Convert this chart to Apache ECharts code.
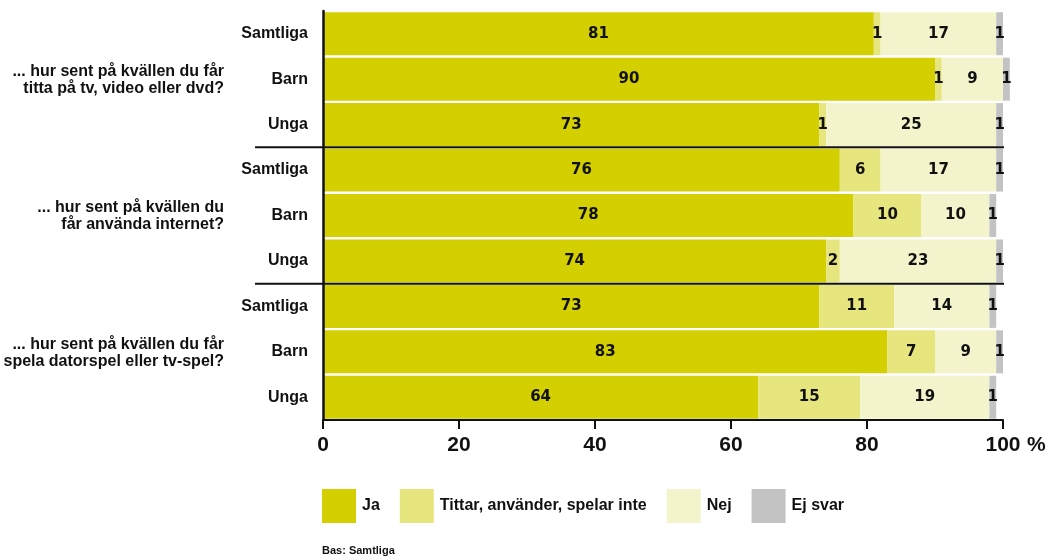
<!DOCTYPE html>
<html>
<head>
<meta charset="utf-8">
<script src="https://cdn.jsdelivr.net/npm/echarts@6/dist/echarts.min.js"></script>
<style>
html,body{margin:0;padding:0;background:#fff;}
#chart{width:1046px;height:560px;}
</style>
</head>
<body>
<div id="chart"></div>
<script>
// ---- data ----
const groupQuestions = [
  '... hur sent på kvällen du får\ntitta på tv, video eller dvd?',
  '... hur sent på kvällen du\nfår använda internet?',
  '... hur sent på kvällen du får\nspela datorspel eller tv-spel?'
];
const rowLabels = ['Samtliga', 'Barn', 'Unga'];
const seriesNames = ['Ja', 'Tittar, använder, spelar inte', 'Nej', 'Ej svar'];
const ja     = [81, 90, 73, 76, 78, 74, 73, 83, 64];
const tittar = [1, 1, 1, 6, 10, 2, 11, 7, 15];
const nej    = [17, 9, 25, 17, 10, 23, 14, 9, 19];
const ejSvar = [1, 1, 1, 1, 1, 1, 1, 1, 1];
const xTickMax = 100;
const xTickStep = 20;
const footnote = 'Bas: Samtliga';

// ---- build ----
const categories = [];
groupQuestions.forEach((q, gi) => rowLabels.forEach(r => categories.push(gi + '|' + r)));

const colors = ['#d3cf00', '#e7e57e', '#f4f4cc', '#c3c3c3'];
const values = [ja, tittar, nej, ejSvar];

const chart = echarts.init(document.getElementById('chart'), null, {renderer: 'canvas'});

const labelFont = {
  show: true, position: 'inside', color: '#111',
  fontFamily: 'DejaVu Sans', fontWeight: 'bold', fontSize: 15
};

const option = {
  animation: false,
  backgroundColor: '#fff',
  grid: {left: 323, right: 43, top: 11, bottom: 140, containLabel: false},
  xAxis: {
    type: 'value', min: 0, max: xTickMax, interval: xTickStep, z: 5,
    splitLine: {show: false},
    axisLine: {show: true, lineStyle: {color: '#111', width: 2}},
    axisTick: {show: true, length: 9, lineStyle: {color: '#111', width: 2}},
    axisLabel: {
      margin: 15, color: '#111', fontFamily: 'Liberation Sans', fontWeight: 'bold', fontSize: 21
    }
  },
  yAxis: {
    type: 'category', data: categories, inverse: true, z: 5,
    axisLine: {show: true, lineStyle: {color: '#111', width: 2.5}},
    axisTick: {show: false},
    axisLabel: {
      margin: 15, color: '#111', fontFamily: 'Liberation Sans', fontWeight: 'bold', fontSize: 16,
      formatter: v => v.split('|')[1]
    }
  },
  legend: {
    left: 322, top: 489, padding: 0, itemWidth: 34, itemHeight: 34, itemGap: 20, icon: 'rect',
    selectedMode: false,
    textStyle: {color: '#111', fontFamily: 'Liberation Sans', fontWeight: 'bold', fontSize: 16, padding: [0, 0, 0, 1]},
    data: seriesNames
  },
  series: seriesNames.map((n, i) => ({
    name: n, type: 'bar', stack: 'all', barWidth: 43, clip: false,
    itemStyle: {color: colors[i]},
    label: labelFont,
    data: values[i]
  }))
};
chart.setOption(option);

// graphic: separators, questions, % sign, footnote
const yPix = i => chart.convertToPixel({yAxisIndex: 0}, i);
const x100 = chart.convertToPixel({xAxisIndex: 0}, xTickMax);
const graphics = [];
for (let g = 1; g < groupQuestions.length; g++) {
  const y = (yPix(g * 3 - 1) + yPix(g * 3)) / 2;
  graphics.push({type: 'line', z: 100, shape: {x1: 255, y1: y, x2: x100 + 1, y2: y},
    style: {stroke: '#111', lineWidth: 2}});
}
groupQuestions.forEach((q, g) => {
  graphics.push({type: 'text', x: 224, y: yPix(g * 3 + 1) + 1,
    style: {text: q, align: 'right', verticalAlign: 'middle', fill: '#111',
      font: 'bold 16px "Liberation Sans"', lineHeight: 17}});
});
const xAxisY = chart.convertToPixel({yAxisIndex: 0}, categories.length - 1) + 45.4 / 2;
graphics.push({type: 'text', x: x100 + 24, y: xAxisY + 15,
  style: {text: '%', align: 'left', verticalAlign: 'top', fill: '#111', font: 'bold 21px "Liberation Sans"'}});
graphics.push({type: 'text', x: 322, y: 551,
  style: {text: footnote, align: 'left', verticalAlign: 'middle', fill: '#111', font: 'bold 11px "Liberation Sans"'}});
chart.setOption({graphic: graphics});
</script>
</body>
</html>
